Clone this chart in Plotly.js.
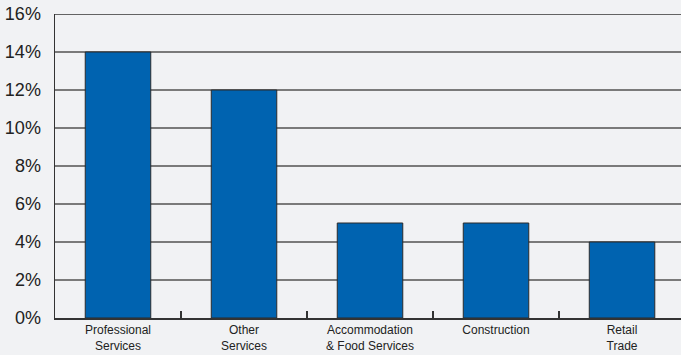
<!DOCTYPE html>
<html><head><meta charset="utf-8">
<script src="https://cdn.plot.ly/plotly-3.0.1.min.js"></script>
<style>html,body{margin:0;padding:0;background:#f1f2f4;}#chart{width:681px;height:355px;}</style>
</head><body><div id="chart"></div>
<script>
const categories = ["Professional<br>Services","Other<br>Services","Accommodation<br>& Food Services","Construction","Retail<br>Trade"];
const shares = [14, 12, 5, 5, 4];
const yTickVals = [0,2,4,6,8,10,12,14,16];
const yTickText = ["0%","2%","4%","6%","8%","10%","12%","14%","16%"];

const trace = {
  type: "bar",
  x: categories,
  y: shares,
  width: 0.52,
  marker: {color: "#0063b0", line: {color: "#2b2b2b", width: 1}},
  hoverinfo: "skip"
};
const layout = {
  width: 681, height: 355,
  margin: {l: 55, r: 0, t: 14, b: 37},
  paper_bgcolor: "#f1f2f4", plot_bgcolor: "#f1f2f4",
  showlegend: false,
  bargap: 0,
  xaxis: {
    type: "category",
    range: [-0.5, 4.468],
    tickson: "boundaries",
    ticks: "inside", ticklen: 7, tickwidth: 1.5, tickcolor: "#333",
    showline: true, linecolor: "#333", linewidth: 1.5,
    showgrid: false, zeroline: false,
    ticklabelstandoff: 0,
    tickfont: {family: "Liberation Sans, Arial", size: 12, color: "#222"}
  },
  yaxis: {
    range: [0, 16],
    tickmode: "array", tickvals: yTickVals, ticktext: yTickText,
    showgrid: true, gridcolor: "#7a7a7a", gridwidth: 1.5,
    showline: true, linecolor: "#333", linewidth: 1.5,
    zeroline: false, ticks: "", ticklabelstandoff: 9,
    tickfont: {family: "Liberation Sans, Arial", size: 18, color: "#222"}
  },
  shapes: [{type: "line", xref: "paper", yref: "y", x0: 0, x1: 1, y0: 16, y1: 16, line: {color: "#333", width: 1.5}}]
};
Plotly.newPlot("chart", [trace], layout, {staticPlot: true, displayModeBar: false});
</script></body></html>
